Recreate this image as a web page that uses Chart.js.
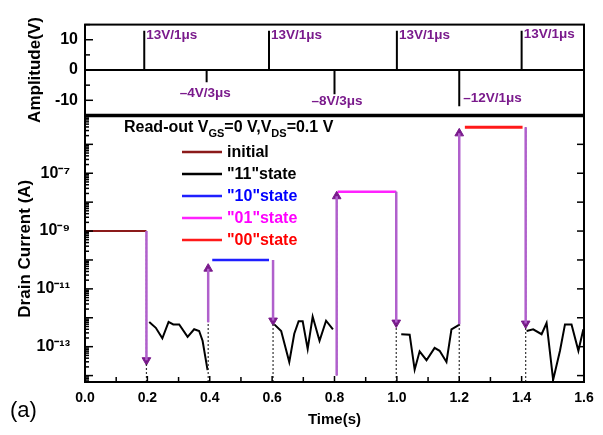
<!DOCTYPE html>
<html><head><meta charset="utf-8">
<script src="https://cdn.jsdelivr.net/npm/chart.js@4.4.1/dist/chart.umd.min.js"></script>
<style>html,body{margin:0;padding:0;background:#fff;}</style>
</head><body>
<canvas id="c" width="603" height="435"></canvas>
<script>
// ---------- DATA ----------
const pulseTimes  = [0.19, 0.39, 0.59, 0.80, 1.00, 1.20, 1.40];
const pulseAmps   = [13, -4, 13, -8, 13, -12, 13];
const pulseLabels = ['13V/1\u03bcs', '\u20134V/3\u03bcs', '13V/1\u03bcs', '\u20138V/3\u03bcs', '13V/1\u03bcs', '\u201312V/1\u03bcs', '13V/1\u03bcs'];

const initialTimes   = [0, 0.197];
const initialCurrent = [1.0e-9, 1.0e-9];

const state11Times1   = [0.206, 0.227, 0.248, 0.268, 0.283, 0.302, 0.329, 0.350, 0.366, 0.377, 0.393];
const state11Current1 = [7.1e-13, 4.5e-13, 1.95e-13, 7.2e-13, 5.9e-13, 5.9e-13, 2.2e-13, 4.0e-13, 3.5e-13, 1.6e-13, 1.55e-14];
const state11Times2   = [0.607, 0.629, 0.655, 0.671, 0.685, 0.698, 0.714, 0.730, 0.752, 0.773, 0.795];
const state11Current2 = [5.9e-13, 3.5e-13, 2.95e-14, 2.8e-13, 7.6e-13, 7.6e-13, 8.3e-14, 1.1e-12, 1.6e-13, 7.9e-13, 4.0e-13];
const state11Times3   = [1.014, 1.041, 1.057, 1.073, 1.095, 1.121, 1.137, 1.159, 1.175, 1.202];
const state11Current3 = [2.7e-13, 2.6e-13, 1.6e-14, 6.9e-14, 3.4e-14, 9.1e-14, 7.2e-14, 2.95e-14, 4.0e-13, 5.9e-13];
const state11Times4   = [1.416, 1.437, 1.464, 1.480, 1.501, 1.523, 1.539, 1.560, 1.582, 1.598];
const state11Current4 = [3.5e-13, 4.0e-13, 2.7e-13, 6.6e-13, 7.1e-15, 7.2e-14, 5.9e-13, 5.9e-13, 7.2e-14, 4.0e-13];

const state10Times   = [0.408, 0.590];
const state10Current = [1.0e-10, 1.0e-10];
const state01Times   = [0.810, 0.998];
const state01Current = [2.3e-8, 2.3e-8];
const state00Times   = [1.218, 1.403];
const state00Current = [3.9e-6, 3.9e-6];

const arrowTimes = [0.197, 0.395, 0.603, 0.807, 0.998, 1.200, 1.413];
const arrowFrom  = [1.0e-9, 7.0e-13, 1.0e-10, 1.0e-14, 2.3e-8, 6.0e-13, 3.9e-6];
const arrowTo    = [3.4e-14, 5.0e-11, 8.0e-13, 1.6e-8, 6.8e-13, 2.4e-6, 6.3e-13];

const dottedTimes = [0.197, 0.395, 0.603, 0.998, 1.200, 1.413];
const dottedTops  = [3.0e-14, 7.0e-13, 6.0e-13, 5.5e-13, 6.0e-13, 5.5e-13];

const legendLabels = ['initial', '"11"state', '"10"state', '"01"state', '"00"state'];
const legendTextColors = ['#000000', '#000000', '#0000ff', '#ff00ff', '#ff0000'];

const xTickValues   = [0, 0.2, 0.4, 0.6, 0.8, 1.0, 1.2, 1.4, 1.6];
const ampTickValues = [-10, 0, 10];
const logTickExps   = [-13, -11, -9, -7];

// ---------- BUILD ----------
const FONT = 'Liberation Sans, Arial, sans-serif';
const pts = (t, v) => t.map((x, i) => ({x, y: v[i]}));

const pulseTrace = [{x: 0, y: 0}];
pulseTimes.forEach((t, i) => { pulseTrace.push({x: t, y: 0}, {x: t, y: pulseAmps[i]}, {x: t, y: 0}); });
pulseTrace.push({x: 1.6, y: 0});

const blackTrace = [].concat(
  pts(state11Times1, state11Current1), [{x: 0.4, y: null}],
  pts(state11Times2, state11Current2), [{x: 0.9, y: null}],
  pts(state11Times3, state11Current3), [{x: 1.3, y: null}],
  pts(state11Times4, state11Current4));

const arrowTrace = [];
arrowTimes.forEach((t, i) => { arrowTrace.push({x: t, y: arrowFrom[i]}, {x: t, y: arrowTo[i]}, {x: t, y: null}); });

const YMIN = 6e-15, YMAX = 1e-5;
const dottedTrace = [];
dottedTimes.forEach((t, i) => { dottedTrace.push({x: t, y: YMIN}, {x: t, y: dottedTops[i]}, {x: t, y: null}); });

const supMap = {'-': '\u207b', '0': '\u2070', '1': '\u00b9', '2': '\u00b2', '3': '\u00b3', '4': '\u2074', '5': '\u2075', '6': '\u2076', '7': '\u2077', '8': '\u2078', '9': '\u2079'};
const sup = s => String(s).split('').map(c => supMap[c] || c).join('');

const PURPLE = '#7a1a8c';
const seriesColors = ['#8b1a1a', '#000000', '#1f1fff', '#ff22ff', '#ff1a1a'];

const ds = (label, data, color, yAxisID, extra) => Object.assign({
  label, data, borderColor: color, backgroundColor: color, borderWidth: 2,
  pointRadius: 0, yAxisID, spanGaps: false, tension: 0
}, extra || {});

const datasets = [
  ds('pulse', pulseTrace, '#000', 'yA', {borderWidth: 2}),
  ds('dotted', dottedTrace, '#333', 'yI', {borderWidth: 1.2, borderDash: [2, 2]}),
  ds('arrowBase', arrowTrace, '#b060cc', 'yI', {borderWidth: 2.5}),
  ds('arrowHead', arrowTrace, PURPLE, 'yI', {
    borderWidth: 1.2, borderDash: [2, 2],
    pointStyle: 'triangle',
    pointRadius: c => (c.dataIndex % 3 === 1 ? 5 : 0),
    pointRotation: c => { const i = Math.floor(c.dataIndex / 3); return arrowTo[i] > arrowFrom[i] ? 0 : 180; },
    pointBackgroundColor: PURPLE, pointBorderColor: PURPLE, pointBorderWidth: 1
  }),
  ds(legendLabels[0], pts(initialTimes, initialCurrent), seriesColors[0], 'yI'),
  ds(legendLabels[1], blackTrace, seriesColors[1], 'yI'),
  ds(legendLabels[2], pts(state10Times, state10Current), seriesColors[2], 'yI', {borderWidth: 2.5}),
  ds(legendLabels[3], pts(state01Times, state01Current), seriesColors[3], 'yI', {borderWidth: 2.5}),
  ds(legendLabels[4], pts(state00Times, state00Current), seriesColors[4], 'yI', {borderWidth: 3})
];

function line(ctx, x1, y1, x2, y2) { ctx.beginPath(); ctx.moveTo(x1, y1); ctx.lineTo(x2, y2); ctx.stroke(); }

const decor = {
  id: 'decor',
  afterDraw(chart) {
    const {ctx, scales: {x, yA, yI}} = chart;
    const L = x.left, R = x.right;
    ctx.save();
    ctx.strokeStyle = '#000';
    // frames
    ctx.lineWidth = 2;
    ctx.strokeRect(L, yA.top, R - L, yA.bottom - yA.top);
    ctx.strokeRect(L, yI.top, R - L, yI.bottom - yI.top);
    ctx.lineWidth = 3.5;
    line(ctx, L, yA.bottom, R, yA.bottom);
    // x ticks (inward)
    ctx.lineWidth = 1.5;
    for (let k = 0; k <= 16; k++) {
      const px = x.getPixelForValue(k / 10);
      line(ctx, px, yI.bottom, px, yI.bottom - (k % 2 === 0 ? 6 : 5));
    }
    // amplitude ticks
    for (let v = -15; v <= 15; v += 5) {
      const py = yA.getPixelForValue(v);
      line(ctx, L, py, L + (v % 10 === 0 ? 8 : 5), py);
    }
    // log ticks both sides
    for (let e = -15; e <= -5; e++) {
      for (let m = 1; m <= 9; m++) {
        const v = m * Math.pow(10, e);
        if (v < YMIN || v > YMAX) continue;
        const py = yI.getPixelForValue(v);
        const len = m === 1 ? 8 : 4;
        line(ctx, L, py, L + len, py);
        if (m === 1) line(ctx, R, py, R - 7, py);
      }
    }
    // pulse annotations
    ctx.fillStyle = PURPLE;
    ctx.font = 'bold 13.5px ' + FONT;
    ctx.textBaseline = 'middle';
    const labOff = [[2, 11.5], [-27, -7.8], [2, 11.5], [-23, -10.4], [2, 11.5], [4, -9.2], [2, 11.8]];
    pulseTimes.forEach((t, i) => {
      ctx.textAlign = 'left';
      ctx.fillText(pulseLabels[i], x.getPixelForValue(t) + labOff[i][0], yA.getPixelForValue(labOff[i][1]));
    });
    // read-out text
    ctx.fillStyle = '#000';
    ctx.textBaseline = 'alphabetic';
    let tx = 124; const ty = 132;
    const parts = [['Read-out V', 16, 0], ['GS', 11, 5], ['=0 V,V', 16, 0], ['DS', 11, 5], ['=0.1 V', 16, 0]];
    parts.forEach(([s, sz, dy]) => { ctx.font = 'bold ' + sz + 'px ' + FONT; ctx.fillText(s, tx, ty + dy); tx += ctx.measureText(s).width; });
    // legend
    const legY0 = 152, legDy = 22;
    legendLabels.forEach((lab, i) => {
      const y = legY0 + i * legDy;
      ctx.strokeStyle = seriesColors[i];
      ctx.lineWidth = 2.5;
      line(ctx, 182, y, 222, y);
      ctx.fillStyle = legendTextColors[i];
      ctx.font = 'bold 16px ' + FONT;
      ctx.textBaseline = 'middle';
      ctx.fillText(lab, 227, y + 1);
    });
    // panel label
    ctx.fillStyle = '#000';
    ctx.font = '22px ' + FONT;
    ctx.textAlign = 'left';
    ctx.textBaseline = 'middle';
    ctx.fillText('(a)', 10, 411);
    ctx.restore();
  }
};

const tickFont = {family: FONT, size: 16, weight: 'bold'};
new Chart(document.getElementById('c'), {
  type: 'line',
  data: {datasets},
  plugins: [decor],
  options: {
    responsive: false,
    animation: false,
    events: [],
    layout: {padding: {top: 20, right: 19, left: 0, bottom: 0}},
    plugins: {legend: {display: false}, tooltip: {enabled: false}},
    scales: {
      x: {
        type: 'linear', min: 0, max: 1.6,
        grid: {display: false, drawTicks: false}, border: {display: false},
        afterBuildTicks(s) { s.ticks = xTickValues.map(v => ({value: v})); },
        ticks: {padding: 8, color: '#000', font: {family: FONT, size: 14, weight: 'bold'}, callback: v => Number(v).toFixed(1), maxRotation: 0, autoSkip: false},
        title: {display: true, text: 'Time(s)', color: '#000', font: {family: FONT, size: 15, weight: 'bold'}, padding: {top: 0, bottom: 6}},
        afterFit(s) { s.height = 53; }
      },
      yA: {
        type: 'linear', position: 'left', stack: 'p', stackWeight: 92, weight: 2,
        min: -15, max: 15,
        grid: {display: false, drawTicks: false}, border: {display: false},
        afterBuildTicks(s) { s.ticks = ampTickValues.map(v => ({value: v})); },
        ticks: {padding: 7, color: '#000', font: tickFont, callback: v => String(v)},
        title: {display: true, text: 'Amplitude(V)', color: '#000', font: {family: FONT, size: 17, weight: 'bold'}, padding: {top: 25, bottom: 0}},
        afterFit(s) { s.width = 85; }
      },
      yI: {
        type: 'logarithmic', position: 'left', stack: 'p', stackWeight: 270, weight: 1,
        min: YMIN, max: YMAX,
        grid: {display: false, drawTicks: false}, border: {display: false},
        afterBuildTicks(s) { s.ticks = logTickExps.map(e => ({value: Math.pow(10, e)})); },
        ticks: {padding: 15, color: '#000', font: tickFont, callback: v => '10' + sup(Math.round(Math.log10(v)))},
        title: {display: true, text: 'Drain Current (A)', color: '#000', font: {family: FONT, size: 17, weight: 'bold'}, padding: {top: 15, bottom: 0}},
        afterFit(s) { s.width = 85; }
      }
    }
  }
});
</script>
</body></html>
